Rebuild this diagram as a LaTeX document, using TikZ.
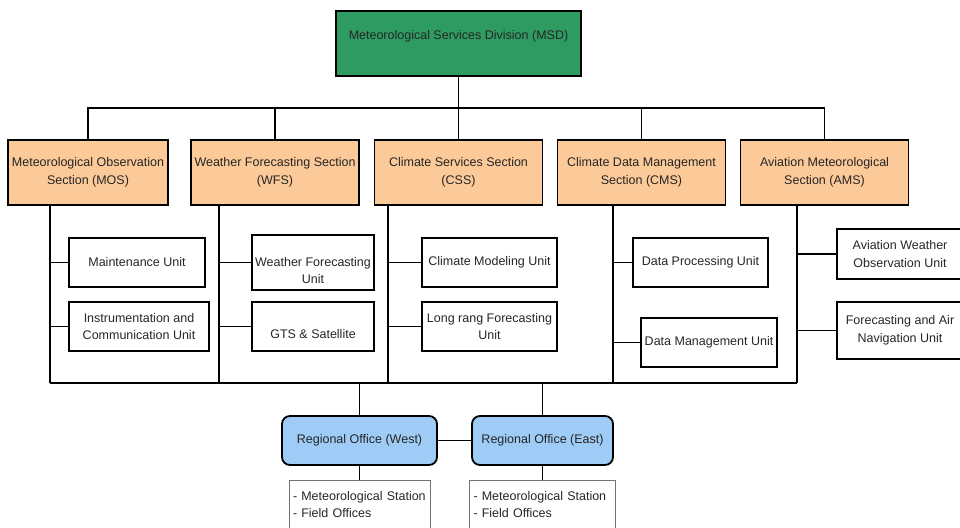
\documentclass[tikz,border=0pt]{standalone}
\usepackage{fontspec}
\setmainfont{Liberation Sans}
\usepackage{tikz}
\usetikzlibrary{calc}

\definecolor{msdgreen}{RGB}{46,156,98}
\definecolor{secorange}{RGB}{252,201,152}
\definecolor{officeblue}{RGB}{158,204,246}

\begin{document}
\begin{tikzpicture}[%
    x=1pt, y=-1pt,
    every node/.style={font=\fontsize{12.5}{17.5}\selectfont, text=black!85, inner sep=1pt, align=center},
    box/.style={draw, line width=1.8pt},
    section/.style={box, fill=secorange, minimum width=168, minimum height=65},
    unitbox/.style={box, minimum height=49},
    office/.style={box, fill=officeblue, rounded corners=8, minimum height=49},
    sites/.style={draw=black!55, line width=0.8pt, minimum height=48, align=left, inner xsep=4pt},
    link/.style={draw, line width=1.8pt}
]
    \useasboundingbox (0,0) rectangle (960,527);
    \clip (0,0) rectangle (960,527);

    % division
    \node[box, fill=msdgreen, minimum width=245, minimum height=65] (msd) at (458.5,43.5)
        {Meteorological Services Division (MSD)\\\mbox{}};

    % sections
    \node[section, minimum width=160] (mos) at (88,172.5)    {Meteorological Observation\\Section (MOS)};
    \node[section]                    (wfs) at (275,172.5)   {Weather Forecasting Section\\(WFS)};
    \node[section]                    (css) at (458.5,172.5) {Climate Services Section\\(CSS)};
    \node[section]                    (cms) at (641.5,172.5) {Climate Data Management\\Section (CMS)};
    \node[section]                    (ams) at (824.5,172.5) {Aviation Meteorological\\Section (AMS)};

    % units
    \node[unitbox, minimum width=136] (mu)  at (137,262.5)   {Maintenance Unit};
    \node[unitbox, minimum width=140] (icu) at (139,326.5)   {Instrumentation and\\Communication Unit};
    \node[unitbox, minimum width=122] (wfu) at (313,262.5)   {\strut\\Weather Forecasting\\Unit\strut};
    \node[unitbox, minimum width=122] (gts) at (313,326.5)   {\strut\\GTS \& Satellite\strut};
    \node[unitbox, minimum width=135] (cmu) at (489.5,262.5) {Climate Modeling Unit};
    \node[unitbox, minimum width=135] (lru) at (489.5,326.5) {Long rang Forecasting\\Unit};
    \node[unitbox, minimum width=135] (dpu) at (700.5,262.5) {Data Processing Unit};
    \node[unitbox, minimum width=136] (dmu) at (709,342.5)   {Data Management Unit};
    \node[box, minimum width=126, minimum height=50] (awu) at (900,254)   {Aviation Weather\\Observation Unit};
    \node[box, minimum width=126, minimum height=57] (fau) at (900,330.5) {Forecasting and Air\\Navigation Unit};

    % regional offices
    \node[office, minimum width=155] (row) at (359.5,440.5) {Regional Office (West)};
    \node[office, minimum width=141] (roe) at (542.5,440.5) {Regional Office (East)};
    \node[sites, text width=133] (lw) at (359.5,504.5) {- Meteorological Station\\- Field Offices};
    \node[sites, text width=138] (le) at (542.5,504.5) {- Meteorological Station\\- Field Offices};

    % bus points
    \coordinate (top)   at (458.5,108);
    \coordinate (mos-b) at (50,383);
    \coordinate (wfs-b) at (219,383);
    \coordinate (css-b) at (388,383);
    \coordinate (cms-b) at (613,383);
    \coordinate (ams-b) at (797,383);

    \path[link] (msd) -- (css);
    \foreach \s in {mos,wfs,cms,ams} {\path[link] (top) -| (\s);};
    \foreach \s in {mos,wfs,css,cms,ams} {\path[link] (\s-b) -- (\s-b |- \s.south);};
    \foreach \s/\u in {mos/mu,mos/icu,wfs/wfu,wfs/gts,css/cmu,css/lru,cms/dpu,cms/dmu,ams/awu,ams/fau}
        {\path[link] (\s-b) |- (\u);};

    \path[link] (mos-b) -- (ams-b)
                (row) -- (row |- mos-b)
                (roe) -- (roe |- mos-b)
                (row) -- (roe)
                (row) -- (lw)
                (roe) -- (le);
\end{tikzpicture}
\end{document}
